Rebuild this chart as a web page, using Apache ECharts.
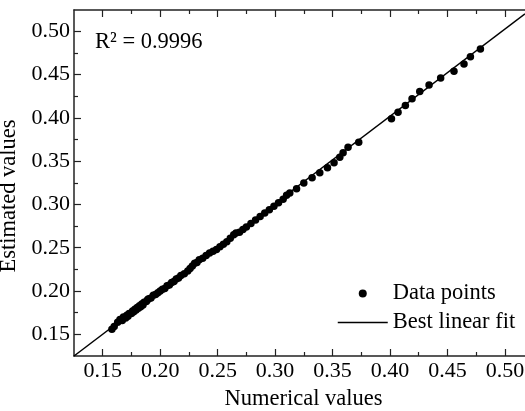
<!DOCTYPE html>
<html>
<head>
<meta charset="utf-8">
<script src="https://cdn.jsdelivr.net/npm/echarts@6/dist/echarts.min.js"></script>
<style>html,body{margin:0;padding:0;background:#fff}#c{width:525px;height:411px}</style>
</head>
<body>
<div id="c"></div>
<script>
const dataX = [0.158,0.160,0.163,0.165,0.167,0.168,0.170,0.171,0.172,0.173,0.175,0.176,0.177,0.178,0.179,0.180,0.181,0.182,0.183,0.184,0.185,0.186,0.188,0.189,0.190,0.192,0.194,0.196,0.198,0.200,0.202,0.204,0.206,0.208,0.210,0.212,0.214,0.216,0.218,0.221,0.224,0.226,0.228,0.230,0.232,0.234,0.237,0.240,0.243,0.246,0.249,0.252,0.255,0.258,0.261,0.264,0.266,0.269,0.272,0.275,0.279,0.283,0.287,0.291,0.295,0.299,0.303,0.307,
  0.3100,0.3128,0.3187,0.3250,0.3322,0.3389,0.3456,0.3513,0.3563,0.3592,0.3635,0.3728,0.4013,0.4070,0.4134,0.4192,0.4259,0.4340,0.4441,0.4557,0.4644,0.4700,0.4787];
const dataY = [0.156,0.159,0.164,0.167,0.166,0.170,0.169,0.172,0.171,0.174,0.174,0.177,0.176,0.179,0.178,0.181,0.180,0.183,0.182,0.185,0.184,0.187,0.188,0.190,0.191,0.192,0.195,0.196,0.198,0.200,0.202,0.203,0.206,0.207,0.210,0.211,0.214,0.215,0.218,0.220,0.223,0.226,0.229,0.232,0.233,0.236,0.238,0.241,0.244,0.246,0.248,0.251,0.254,0.257,0.261,0.265,0.267,0.268,0.271,0.274,0.278,0.282,0.286,0.290,0.294,0.298,0.302,0.306,
  0.3105,0.3131,0.3182,0.3247,0.3309,0.3366,0.3424,0.3482,0.3546,0.3597,0.3661,0.3719,0.3988,0.4065,0.4142,0.4219,0.4303,0.4380,0.4461,0.4537,0.4622,0.4706,0.4795];
const fitX = [0.125, 0.5175];
const fitY = [0.125, 0.5200];
const majorTicks = [0.15,0.20,0.25,0.30,0.35,0.40,0.45,0.50];
const minorTicks = [0.175,0.225,0.275,0.325,0.375,0.425,0.475];
const xName = 'Numerical values';
const yName = 'Estimated values';
const r2Text = 'R\u00b2 = 0.9996';

const FONT = 'Liberation Serif';
const xMin = 0.125, xMax = 0.5175, yMin = 0.125, yMax = 0.5245;
const lineStyle = {color:'#222', width:1.5};

function axis(pos, ticks, len, showLine, labels, extra) {
  return Object.assign({
    type:'value', position:pos, min: (pos==='bottom'||pos==='top')?xMin:yMin, max:(pos==='bottom'||pos==='top')?xMax:yMax,
    axisLine:{show:showLine, lineStyle:lineStyle, onZero:false},
    axisTick:{show:true, inside:true, length:len, customValues:ticks, lineStyle:{color:'#222', width:1.2}},
    axisLabel:labels ? {show:true, customValues:ticks, formatter:v=>v.toFixed(2), fontFamily:FONT, fontSize:22, color:'#000', margin:4} : {show:false},
    splitLine:{show:false}
  }, extra||{});
}

const chart = echarts.init(document.getElementById('c'));
chart.setOption({
  animation:false,
  grid:{left:74, right:0, top:10, bottom:55, outerBoundsMode:'none'},
  title:{text:r2Text, left:95, top:31, textStyle:{fontFamily:FONT, fontSize:22.5, fontWeight:'normal', color:'#000'}, padding:0},
  legend:{orient:'vertical', left:337, top:282, padding:0, itemWidth:50, itemHeight:8, itemGap:6,
    textStyle:{fontFamily:FONT, fontSize:22.5, color:'#000'},
    data:[{name:'Data points', icon:'circle'},
          {name:'Best linear fit', itemStyle:{color:'rgba(0,0,0,0)', borderWidth:0, opacity:0}, lineStyle:{color:'#000', width:1.5, opacity:1}}]},
  xAxis:[
    axis('bottom', majorTicks, 7, true, true, {name:xName, nameLocation:'middle', nameGap:32, nameTextStyle:{fontFamily:FONT, fontSize:22.5, color:'#000', padding:[0,0,0,8]}}),
    axis('bottom', minorTicks, 4, false, false),
    axis('top', majorTicks, 7, true, false),
    axis('top', minorTicks, 4, false, false)
  ],
  yAxis:[
    axis('left', majorTicks, 7, true, true, {name:yName, nameLocation:'middle', nameGap:41, nameTextStyle:{fontFamily:FONT, fontSize:22.5, color:'#000', padding:[0,26,0,0]}}),
    axis('left', minorTicks, 4, false, false)
  ],
  series:[
    {name:'Best linear fit', type:'line', xAxisIndex:0, yAxisIndex:0, symbol:'none', z:1,
     lineStyle:{color:'#000', width:1.5}, itemStyle:{color:'#000'},
     data:fitX.map((x,i)=>[x, fitY[i]])},
    {name:'Data points', type:'scatter', xAxisIndex:0, yAxisIndex:0, symbol:'circle', symbolSize:7.5, z:3,
     itemStyle:{color:'#000', opacity:1},
     data:dataX.map((x,i)=>[x, dataY[i]])}
  ]
});
</script>
</body>
</html>
